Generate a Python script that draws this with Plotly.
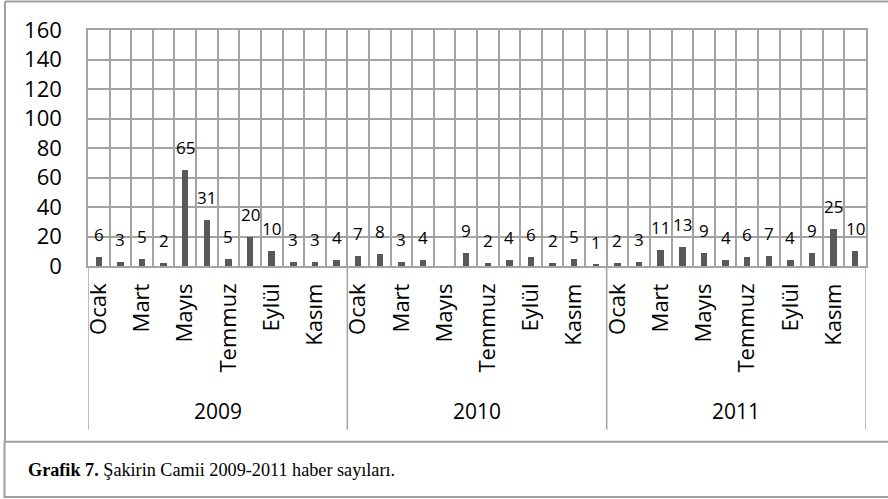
import plotly.graph_objects as go

years = ["2009", "2010", "2011"]
months = ["Ocak", "Şubat", "Mart", "Nisan", "Mayıs", "Haziran",
          "Temmuz", "Ağustos", "Eylül", "Ekim", "Kasım", "Aralık"]
values_2009 = [6, 3, 5, 2, 65, 31, 5, 20, 10, 3, 3, 4]
values_2010 = [7, 8, 3, 4, None, 9, 2, 4, 6, 2, 5, 1]
values_2011 = [2, 3, 11, 13, 9, 4, 6, 7, 4, 9, 25, 10]
shown_months = ["Ocak", "Mart", "Mayıs", "Temmuz", "Eylül", "Kasım"]
y_ticks = [0, 20, 40, 60, 80, 100, 120, 140, 160]
caption_bold = "Grafik 7."
caption_rest = " Şakirin Camii 2009-2011 haber sayıları."

values = values_2009 + values_2010 + values_2011
n_m = len(months)
xs = list(range(len(values)))
tickvals = [i for i in xs if months[i % n_m] in shown_months]
ticktext = [months[i % n_m] for i in tickvals]

W, H = 888, 499
L, R, T, B = 88, 22, 29.5, 233
pw, ph = W - L - R, H - T - B
def px(x):
    return (x - L) / pw
def py(y):
    return (H - B - y) / ph

AXFONT = "Open Sans"
GRID = "#a3a3a3"

fig = go.Figure()
fig.add_trace(go.Bar(x=xs, y=[v if v is not None else 0 for v in values],
                     width=0.3, marker=dict(color="#595959", line=dict(width=0)),
                     hoverinfo="skip"))

annotations = []
for x, v in zip(xs, values):
    if v is None:
        continue
    annotations.append(dict(x=x, y=v, xref="x", yref="y", text=str(v),
                            showarrow=False, yanchor="bottom", yshift=9,
                            font=dict(family=AXFONT, size=17, color="#000")))

for k, yr in enumerate(years):
    annotations.append(dict(x=k * n_m + (n_m - 1) / 2, y=py(411), xref="x", yref="paper",
                            text=yr, showarrow=False, yanchor="middle",
                            font=dict(family=AXFONT, size=21, color="#000")))

annotations.append(dict(x=px(26), y=py(470), xref="paper", yref="paper", xanchor="left",
                        yanchor="middle", showarrow=False,
                        text="<b>" + caption_bold + "</b>" + caption_rest,
                        font=dict(family="Liberation Serif", size=18.2, color="#000")))

shapes = []
for k in range(len(years) + 1):
    xb = k * n_m - 0.5
    shapes.append(dict(type="line", xref="x", yref="paper", x0=xb, x1=xb,
                       y0=0, y1=py(430), line=dict(color=GRID, width=1.5)))
# chart box borders
shapes.append(dict(type="line", xref="paper", yref="paper", x0=px(5), x1=px(888),
                   y0=py(1), y1=py(1), line=dict(color="#a0a0a0", width=2)))
shapes.append(dict(type="line", xref="paper", yref="paper", x0=px(5), x1=px(5),
                   y0=py(1), y1=py(442), line=dict(color="#a0a0a0", width=2)))
# caption box
shapes.append(dict(type="rect", xref="paper", yref="paper", x0=px(4.5), x1=px(890),
                   y0=py(442), y1=py(497.5), line=dict(color="#a0a0a0", width=2),
                   fillcolor="rgba(0,0,0,0)"))

fig.update_layout(
    width=W, height=H,
    margin=dict(l=L, r=R, t=T, b=B),
    paper_bgcolor="white", plot_bgcolor="white",
    showlegend=False,
    bargap=0,
    annotations=annotations,
    shapes=shapes,
    xaxis=dict(range=[-0.5, len(values) - 0.5], tickmode="array",
               tickvals=tickvals, ticktext=ticktext, tickangle=-90,
               showgrid=False, zeroline=False, ticks="",
               showline=True, linecolor=GRID, linewidth=1.5, mirror=True,
               ticklabelstandoff=7,
               tickfont=dict(family=AXFONT, size=22, color="#000"),
               minor=dict(tickmode="linear", tick0=-0.5, dtick=1, showgrid=True,
                          gridcolor=GRID, gridwidth=1.5, ticks="")),
    yaxis=dict(range=[0, 160], tickmode="array", tickvals=y_ticks,
               showgrid=True, gridcolor=GRID, gridwidth=1.5, zeroline=False,
               showline=True, linecolor=GRID, linewidth=1.5, mirror=True,
               ticks="", ticklabelstandoff=20,
               tickfont=dict(family=AXFONT, size=22, color="#000")),
)

fig.write_html("out.html", config={"displayModeBar": False},
               post_script="document.body.style.margin='0';document.body.style.overflow='hidden';")
